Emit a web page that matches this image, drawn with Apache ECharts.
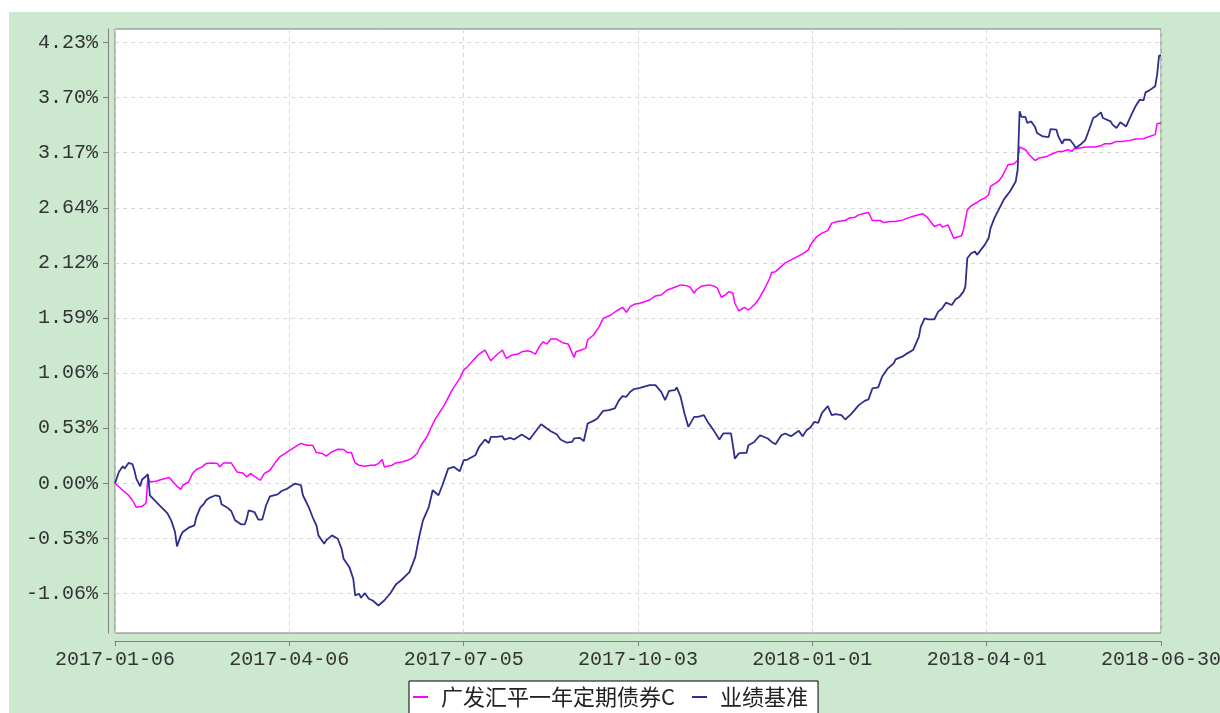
<!DOCTYPE html>
<html><head><meta charset="utf-8">
<script src="https://cdn.jsdelivr.net/npm/echarts@6/dist/echarts.min.js"></script>
<style>
html,body{margin:0;padding:0;background:#fff;overflow:hidden;}
#bg{position:absolute;left:9px;top:12px;width:1211px;height:701px;background:#CCE8CF;}
#chart{position:absolute;left:0;top:0;width:1220px;height:713px;}
</style></head><body><div id="bg"></div><div id="chart"></div>
<script>
// x = calendar days since 2017-01-06
const xTickLabels = ['2017-01-06','2017-04-06','2017-07-05','2017-10-03','2018-01-01','2018-04-01','2018-06-30'];
const yTickValues = [-1.0575,-0.52875,0,0.52875,1.0575,1.58625,2.115,2.64375,3.1725,3.70125,4.23];
const yTickLabels = ['-1.06%','-0.53%','0.00%','0.53%','1.06%','1.59%','2.12%','2.64%','3.17%','3.70%','4.23%'];
const seriesNames = ['广发汇平一年定期债券C','业绩基准'];

const fundDays = [0,4,5,7,9,11,12,14,16,17,18,21,24,28,30,32,34,35,38,40,42,45,47,50,53,54,56,60,63,66,68,70,72,75,77,80,83,85,89,93,96,99,102,104,107,109,112,115,118,120,122,124,126,129,132,134,136,138,139,140,143,145,148,151,153,156,158,161,163,165,170,174,178,180,182,185,188,191,193,194,197,200,202,205,208,210,213,215,217,219,221,223,225,228,231,234,237,238,243,244,247,250,252,256,259,262,264,266,268,271,276,277,279,282,283,285,289,292,295,297,299,300,303,307,309,311,313,315,317,319,320,322,325,327,330,332,335,338,339,341,346,351,355,358,359,362,365,368,370,373,377,379,382,384,386,389,390,391,395,397,400,403,407,409,413,417,419,421,423,424,426,427,430,431,433,434,437,438,440,442,445,447,449,451,452,456,458,461,464,466,467,470,472,475,477,481,484,487,489,492,494,495,498,501,502,506,509,511,514,517,520,524,527,531,534,537,538,540];
const fundValues = [0,-0.067,-0.074,-0.115,-0.163,-0.231,-0.250,-0.221,-0.192,0.061,0.012,0.019,0.036,0.055,0.012,-0.029,-0.058,-0.019,0.012,0.093,0.132,0.157,0.189,0.195,0.189,0.157,0.195,0.195,0.109,0.099,0.061,0.093,0.067,0.029,0.093,0.125,0.205,0.253,0.301,0.349,0.382,0.365,0.365,0.295,0.286,0.260,0.301,0.327,0.324,0.295,0.295,0.195,0.173,0.163,0.173,0.173,0.189,0.228,0.157,0.141,0.173,0.195,0.205,0.221,0.237,0.286,0.365,0.445,0.526,0.606,0.750,0.894,1.007,1.086,1.118,1.182,1.240,1.279,1.208,1.176,1.231,1.279,1.199,1.231,1.240,1.262,1.272,1.262,1.240,1.310,1.358,1.336,1.384,1.384,1.349,1.336,1.208,1.262,1.295,1.375,1.423,1.503,1.583,1.615,1.656,1.689,1.641,1.695,1.718,1.728,1.759,1.753,1.798,1.807,1.824,1.855,1.881,1.904,1.897,1.881,1.824,1.855,1.894,1.904,1.894,1.872,1.785,1.807,1.839,1.824,1.728,1.656,1.689,1.663,1.711,1.759,1.855,1.968,2.022,2.031,2.115,2.163,2.201,2.240,2.288,2.362,2.401,2.425,2.497,2.512,2.522,2.545,2.554,2.576,2.586,2.599,2.608,2.522,2.522,2.502,2.512,2.512,2.528,2.545,2.567,2.586,2.560,2.512,2.464,2.458,2.487,2.458,2.480,2.480,2.352,2.336,2.375,2.432,2.624,2.663,2.695,2.721,2.737,2.769,2.849,2.897,2.945,3.057,3.067,3.098,3.227,3.201,3.153,3.098,3.121,3.137,3.163,3.185,3.185,3.201,3.185,3.208,3.218,3.227,3.218,3.227,3.240,3.259,3.259,3.281,3.281,3.291,3.304,3.307,3.329,3.346,3.451,3.458];

const benchDays = [0,2,4,5,7,9,10,11,13,14,16,17,18,20,23,27,29,31,32,34,35,38,41,42,44,46,47,49,52,54,55,58,60,62,65,67,68,69,72,74,76,78,80,84,86,89,90,93,96,97,100,102,104,105,108,109,112,115,117,118,121,123,124,126,127,129,131,133,136,139,142,145,148,152,155,157,159,162,164,167,169,172,175,178,180,182,186,188,191,193,194,197,200,201,204,206,210,212,214,217,220,223,225,228,230,233,236,237,240,242,244,247,249,250,252,255,258,260,262,264,266,268,271,276,277,279,282,284,286,289,290,292,294,296,299,301,304,306,309,312,314,318,319,320,322,324,326,327,330,333,337,339,341,344,346,349,351,353,355,357,359,361,363,365,368,370,372,375,377,380,384,387,389,391,394,396,399,402,403,407,409,412,415,416,418,420,423,425,427,429,430,432,434,436,438,439,440,442,444,445,447,449,451,452,454,457,459,462,465,466,467,468,470,471,473,475,476,479,482,483,486,487,489,490,493,495,496,499,501,503,505,507,509,510,514,515,517,519,520,522,525,527,529,531,532,534,537,538,539,540];
const benchValues = [0,0.109,0.163,0.141,0.195,0.183,0.125,0.045,-0.029,0.036,0.067,0.087,-0.115,-0.154,-0.211,-0.286,-0.356,-0.468,-0.606,-0.500,-0.468,-0.426,-0.404,-0.324,-0.234,-0.195,-0.163,-0.137,-0.115,-0.125,-0.202,-0.234,-0.266,-0.356,-0.394,-0.394,-0.339,-0.260,-0.276,-0.349,-0.349,-0.211,-0.125,-0.106,-0.074,-0.051,-0.036,-0.003,-0.019,-0.115,-0.228,-0.324,-0.404,-0.500,-0.580,-0.548,-0.500,-0.532,-0.628,-0.724,-0.805,-0.916,-1.077,-1.060,-1.099,-1.055,-1.108,-1.125,-1.173,-1.125,-1.060,-0.971,-0.926,-0.853,-0.709,-0.516,-0.356,-0.228,-0.067,-0.115,-0.019,0.141,0.157,0.115,0.221,0.228,0.269,0.349,0.420,0.387,0.445,0.445,0.452,0.420,0.436,0.420,0.468,0.445,0.420,0.494,0.567,0.526,0.500,0.471,0.420,0.391,0.397,0.430,0.436,0.404,0.574,0.599,0.622,0.606,0.695,0.702,0.718,0.791,0.836,0.830,0.878,0.904,0.916,0.942,0.926,0.942,0.878,0.798,0.887,0.894,0.920,0.830,0.670,0.541,0.637,0.637,0.654,0.589,0.510,0.420,0.478,0.478,0.365,0.237,0.286,0.291,0.291,0.365,0.397,0.461,0.430,0.397,0.375,0.461,0.478,0.452,0.478,0.503,0.452,0.510,0.535,0.589,0.580,0.676,0.740,0.654,0.663,0.654,0.612,0.663,0.750,0.791,0.805,0.910,0.920,1.022,1.103,1.151,1.189,1.221,1.247,1.279,1.406,1.503,1.583,1.574,1.574,1.647,1.679,1.733,1.728,1.711,1.766,1.791,1.839,1.887,2.160,2.208,2.224,2.192,2.240,2.288,2.352,2.449,2.545,2.656,2.727,2.800,2.897,3.009,3.570,3.516,3.516,3.458,3.473,3.420,3.362,3.329,3.323,3.400,3.394,3.329,3.259,3.297,3.297,3.249,3.218,3.259,3.297,3.400,3.506,3.528,3.560,3.506,3.473,3.442,3.410,3.464,3.473,3.425,3.547,3.624,3.682,3.675,3.752,3.771,3.810,3.922,4.105,4.105];

const fundData = fundDays.map((d, i) => [d, fundValues[i]]);
const benchData = benchDays.map((d, i) => [d, benchValues[i]]);

const axisGrey = '#808080';
const labelFont = 'Liberation Mono';

const chart = echarts.init(document.getElementById('chart'), null, {renderer: 'canvas'});
chart.setOption({
  animation: false,
  backgroundColor: 'transparent',
  grid: {left: 115, top: 29, width: 1046, height: 604, show: true, backgroundColor: '#fff', borderColor: '#7a7a7a', borderWidth: 1, containLabel: false, outerBoundsMode: 'none'},
  xAxis: {
    type: 'value', min: 0, max: 540, interval: 90, offset: 8,
    axisLine: {show: true, onZero: false, lineStyle: {color: axisGrey, width: 1}},
    axisTick: {show: true, length: 5, lineStyle: {color: axisGrey}},
    axisLabel: {formatter: v => xTickLabels[Math.round(v / 90)] || '', fontFamily: labelFont, fontSize: 20, color: '#333', margin: 9, showMinLabel: true, showMaxLabel: true},
    splitLine: {show: true, lineStyle: {color: '#d6d6d6', type: [4, 4]}}
  },
  yAxis: {
    type: 'value', min: -1.437, max: 4.36, offset: 7,
    axisLine: {show: true, onZero: false, lineStyle: {color: axisGrey, width: 1}},
    axisTick: {show: true, length: 5, lineStyle: {color: axisGrey}, customValues: yTickValues},
    axisLabel: {
      customValues: yTickValues,
      formatter: v => { const i = yTickValues.findIndex(t => Math.abs(t - v) < 1e-6); return i >= 0 ? yTickLabels[i] : ''; },
      fontFamily: labelFont, fontSize: 20, color: '#333', margin: 10
    },
    splitLine: {show: true, lineStyle: {color: '#d6d6d6', type: [4, 4]}}
  },
  legend: {
    left: 409, top: 681, orient: 'horizontal',
    backgroundColor: '#fff', borderColor: '#000', borderWidth: 1,
    padding: [5, 10, 6, 4], itemGap: 17, itemWidth: 15, itemHeight: 2, icon: 'rect',
    textStyle: {fontFamily: 'Noto Sans CJK SC', fontSize: 22, color: '#222', padding: [0, 0, 0, 8]},
    data: seriesNames
  },
  series: [
    {name: seriesNames[0], type: 'line', data: fundData, symbol: 'none', color: '#ff00ff', lineStyle: {width: 1.5, color: '#ff00ff'}},
    {name: seriesNames[1], type: 'line', data: benchData, symbol: 'none', color: '#2e2e8f', lineStyle: {width: 1.8, color: '#2e2e8f'}}
  ]
});
</script>
</body></html>
